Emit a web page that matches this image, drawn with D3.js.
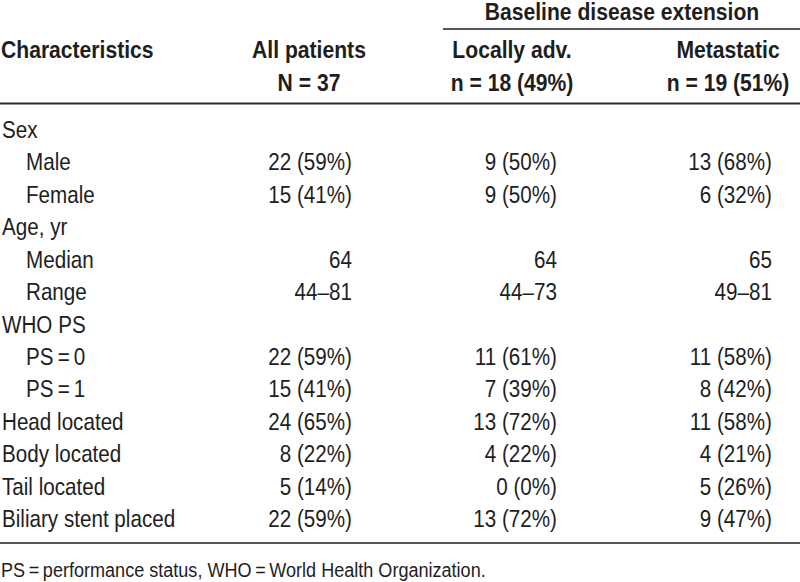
<!DOCTYPE html>
<html>
<head>
<meta charset="utf-8">
<script src="https://cdn.jsdelivr.net/npm/d3@7"></script>
<style>
  html, body { margin: 0; padding: 0; background: #fff; }
  svg { display: block; }
  text { font-family: "Liberation Sans", Arial, sans-serif; fill: #1e1e1e; }
  .bold { font-weight: bold; }
</style>
</head>
<body>
<svg id="chart" width="800" height="582"></svg>
<script>
// ---- data ----
const spanHeader = "Baseline disease extension";
const columnHeaders = ["All patients", "Locally adv.", "Metastatic"];
const columnSubHeaders = ["N = 37", "n = 18 (49%)", "n = 19 (51%)"];
const stubHeader = "Characteristics";
const rowLabels = ["Sex", "Male", "Female", "Age, yr", "Median", "Range", "WHO PS",
  "PS\u2009=\u20090", "PS\u2009=\u20091", "Head located", "Body located", "Tail located", "Biliary stent placed"];
const rowIndent = [0, 1, 1, 0, 1, 1, 0, 1, 1, 0, 0, 0, 0];
const allPatients = ["", "22 (59%)", "15 (41%)", "", "64", "44\u201381", "", "22 (59%)", "15 (41%)", "24 (65%)", "8 (22%)", "5 (14%)", "22 (59%)"];
const locallyAdv = ["", "9 (50%)", "9 (50%)", "", "64", "44\u201373", "", "11 (61%)", "7 (39%)", "13 (72%)", "4 (22%)", "0 (0%)", "13 (72%)"];
const metastatic = ["", "13 (68%)", "6 (32%)", "", "65", "49\u201381", "", "11 (58%)", "8 (42%)", "11 (58%)", "4 (21%)", "5 (26%)", "9 (47%)"];
const footnote = "PS\u2009=\u2009performance status, WHO\u2009=\u2009World Health Organization.";

// ---- layout ----
const svg = d3.select("#chart");
const W = 800;
const fs = 24;
const sxReg = 0.86, sxBold = 0.88;

function put(sel, x, y, sx) {
  return sel.attr("x", 0).attr("y", 0)
    .attr("transform", (d, i) => {
      const xx = typeof x === "function" ? x(d, i) : x;
      const yy = typeof y === "function" ? y(d, i) : y;
      return `translate(${xx},${yy}) scale(${sx},1)`;
    });
}

const rowIdx = rowLabels.map((d, i) => i);
const y = d3.scalePoint().domain(rowIdx).range([138, 527]);
const colKeys = [0, 1, 2];
const xRight = d3.scaleOrdinal().domain(colKeys).range([352, 557, 772]);
const xCenter = d3.scaleOrdinal().domain(colKeys).range([309, 512, 728]);
const xIndent = d3.scaleOrdinal().domain([0, 1]).range([2, 26]);
const columns = [allPatients, locallyAdv, metastatic];

// header
put(svg.append("text").attr("class", "bold").attr("text-anchor", "middle")
  .style("font-size", fs + "px").text(spanHeader), 622, 20, sxBold);
svg.append("line").attr("x1", 443).attr("x2", W).attr("y1", 29).attr("y2", 29)
  .attr("stroke", "#1e1e1e").attr("stroke-width", 1.3);

put(svg.append("text").attr("class", "bold")
  .style("font-size", fs + "px").text(stubHeader), 1, 58, sxBold);

put(svg.selectAll("text.colhead").data(colKeys).join("text")
  .attr("class", "bold colhead").attr("text-anchor", "middle")
  .style("font-size", fs + "px").text(d => columnHeaders[d]), d => xCenter(d), 58, sxBold);
put(svg.selectAll("text.colsub").data(colKeys).join("text")
  .attr("class", "bold colsub").attr("text-anchor", "middle")
  .style("font-size", fs + "px").text(d => columnSubHeaders[d]), d => xCenter(d), 91, sxBold);

svg.append("line").attr("x1", 0).attr("x2", W).attr("y1", 103.5).attr("y2", 103.5)
  .attr("stroke", "#2a2a2a").attr("stroke-width", 2);

// body
put(svg.selectAll("text.rowlab").data(rowIdx).join("text")
  .attr("class", "rowlab")
  .style("font-size", fs + "px").text(d => rowLabels[d]),
  d => xIndent(rowIndent[d]), d => y(d), sxReg);

colKeys.forEach(c => {
  put(svg.selectAll("text.cell" + c).data(rowIdx.filter(i => columns[c][i] !== "")).join("text")
    .attr("class", "cell" + c).attr("text-anchor", "end")
    .style("font-size", fs + "px").text(d => columns[c][d]),
    xRight(c), d => y(d), sxReg);
});

svg.append("line").attr("x1", 0).attr("x2", W).attr("y1", 543).attr("y2", 543)
  .attr("stroke", "#1e1e1e").attr("stroke-width", 1.3);

put(svg.append("text").style("font-size", "21px").text(footnote), 1, 577, sxReg);
</script>
</body>
</html>
